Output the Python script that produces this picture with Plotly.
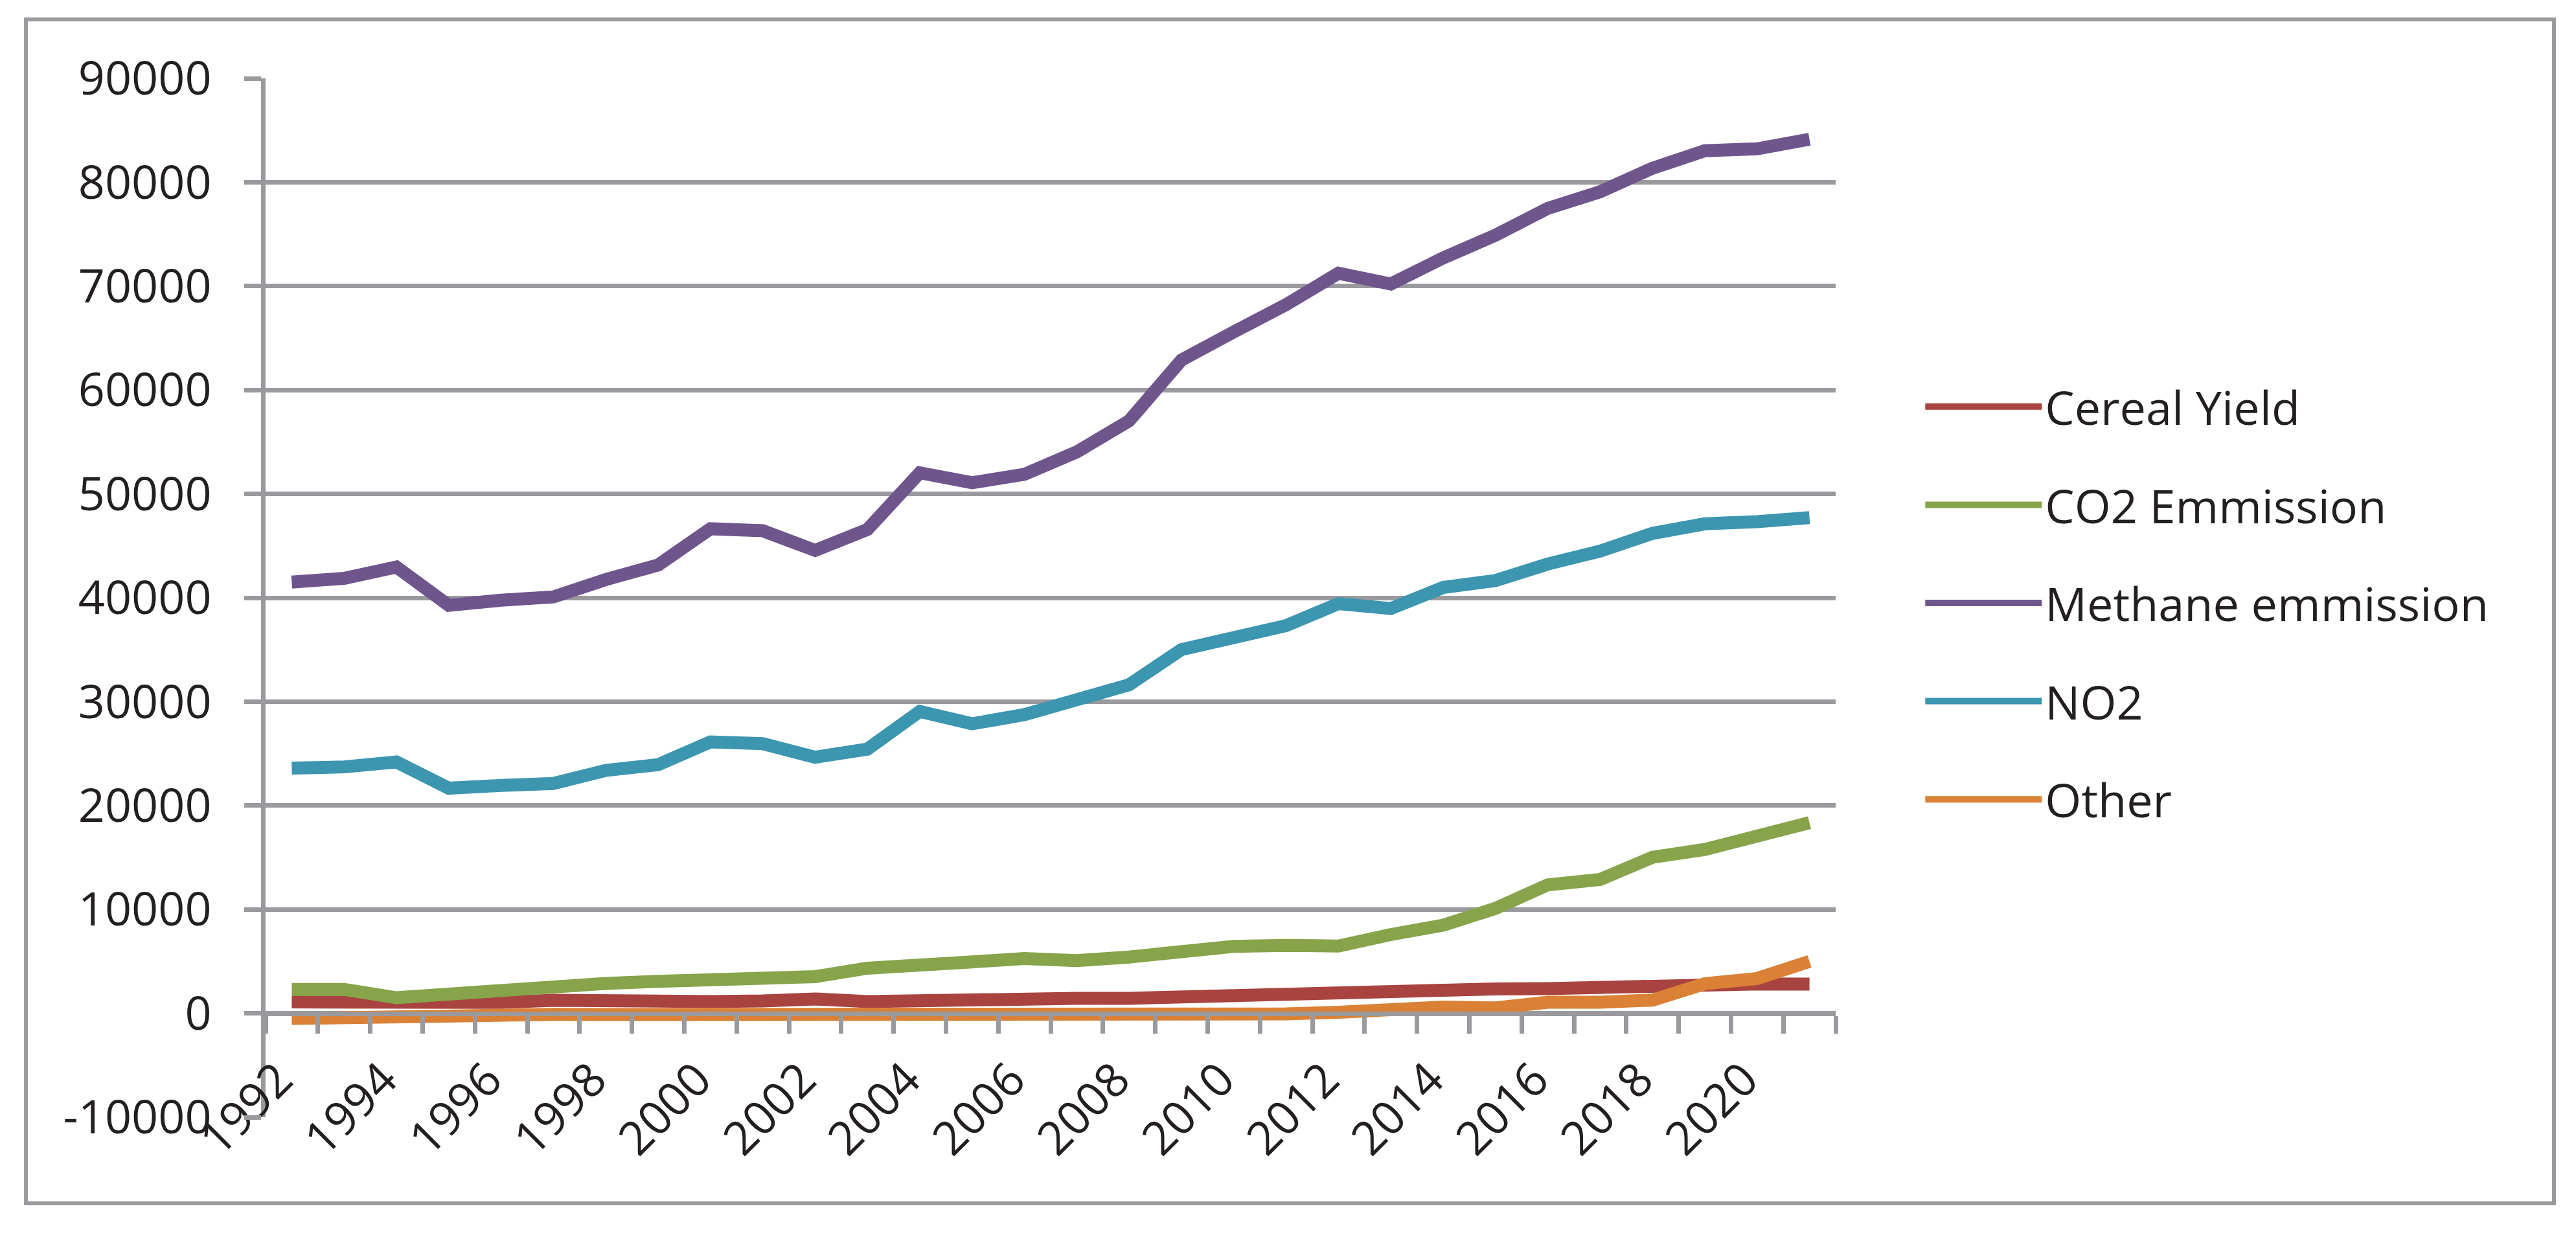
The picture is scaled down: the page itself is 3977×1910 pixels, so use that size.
import plotly.graph_objects as go

# values
years = [1992, 1993, 1994, 1995, 1996, 1997, 1998, 1999, 2000, 2001,
         2002, 2003, 2004, 2005, 2006, 2007, 2008, 2009, 2010, 2011,
         2012, 2013, 2014, 2015, 2016, 2017, 2018, 2019, 2020, 2021]

cereal_yield = [1090, 1100, 900, 950, 1050, 1250, 1130, 1130, 1130, 1190,
                1380, 1130, 1250, 1420, 1590, 1440, 1440, 1600, 1730, 1850,
                1960, 2100, 2250, 2350, 2370, 2520, 2690, 2790, 2830, 2810]

co2_emmission = [2300, 2300, 1500, 1880, 2190, 2590, 2880, 3070, 3190, 3150,
                 3530, 4340, 4510, 4950, 5280, 5080, 5420, 5940, 6440, 6540,
                 6480, 7580, 8480, 10100, 12370, 12890, 15020, 15770, 17210, 18350]

methane_emmission = [41510, 41870, 42960, 39270, 39770, 40080, 41750, 43150, 46640, 46450,
                     44560, 46570, 52030, 51070, 51880, 54040, 57030, 62880, 65590, 68220,
                     71240, 70210, 72710, 74900, 77490, 79080, 81350, 83030, 83220, 84140]

no2 = [23600, 23720, 24190, 21670, 21930, 22120, 23380, 23930, 26130, 25960,
       24650, 25430, 29060, 27870, 28750, 30160, 31630, 35010, 36010, 37320,
       39430, 38960, 40990, 41660, 43250, 44490, 46200, 47120, 47320, 47710]

other = [-500, -380, -270, -130, -100, -100, -120, -130, -150, -130,
         -100, -80, 0, 0, 0, 0, 0, -20, -60, -60,
         100, 500, 600, 520, 1060, 1060, 1270, 2850, 3350, 5000]

x_tick_years = [1992, 1994, 1996, 1998, 2000, 2002, 2004, 2006, 2008, 2010,
                2012, 2014, 2016, 2018, 2020]
y_tick_vals = [-10000, 0, 10000, 20000, 30000, 40000, 50000, 60000, 70000, 80000, 90000]
y_tick_text = ["-10000", "0", "10000", "20000", "30000", "40000", "50000",
               "60000", "70000", "80000", "90000"]

series = [
    ("Cereal Yield", cereal_yield, "#A8433F"),
    ("CO2 Emmission", co2_emmission, "#87A44A"),
    ("Methane emmission", methane_emmission, "#6E568D"),
    ("NO2", no2, "#3D96AF"),
    ("Other", other, "#DA8136"),
]

grey = "#9A9A9E"
font_family = "Open Sans, Noto Sans, sans-serif"

fig = go.Figure()
for name, vals, col in series:
    fig.add_trace(go.Scatter(
        x=years,
        y=vals,
        mode='lines',
        name=name,
        legendgroup=name,
        line=dict(color=col, width=20),
    ))

fig.update_layout(
    width=3977,
    height=1910,
    paper_bgcolor='white',
    plot_bgcolor='white',
    margin=dict(l=402, r=1151, t=113, b=193, autoexpand=False),
    font=dict(family=font_family, size=72, color="#231F20"),
    showlegend=True,
    legend=dict(
        x=1.055, xanchor='left',
        y=0.495, yanchor='middle',
        font=dict(size=72),
        itemwidth=180,
        tracegroupgap=55,
        bgcolor='rgba(0,0,0,0)',
    ),
    xaxis=dict(
        range=[1991.5, 2021.5],
        anchor='free',
        position=0.1,
        showline=True,
        linecolor=grey,
        linewidth=7,
        showgrid=False,
        zeroline=False,
        tickvals=x_tick_years,
        ticktext=[str(y) for y in x_tick_years],
        tickangle=-45,
        ticks='outside',
        ticklen=27,
        tickcolor='rgba(0,0,0,0)',
        ticklabelshift=-20,
        minor=dict(dtick=1, tick0=1991.5, ticks='outside', ticklen=27,
                   tickwidth=7, tickcolor=grey, showgrid=False),
        automargin=False,
    ),
    yaxis=dict(
        range=[-10000, 90000],
        tickvals=y_tick_vals,
        ticktext=y_tick_text,
        showgrid=True,
        gridcolor=grey,
        gridwidth=7,
        zeroline=False,
        showline=True,
        linecolor=grey,
        linewidth=7,
        ticks='outside',
        ticklen=26,
        tickwidth=7,
        tickcolor=grey,
        ticklabelstandoff=36,
        automargin=False,
    ),
)

# outer frame around the whole chart
fig.add_shape(type='rect', xref='paper', yref='paper',
              x0=-0.1526, x1=1.4575, y0=-0.0829, y1=1.0567,
              line=dict(color=grey, width=6), fillcolor='rgba(0,0,0,0)', layer='below')

fig.write_html("out.html")
